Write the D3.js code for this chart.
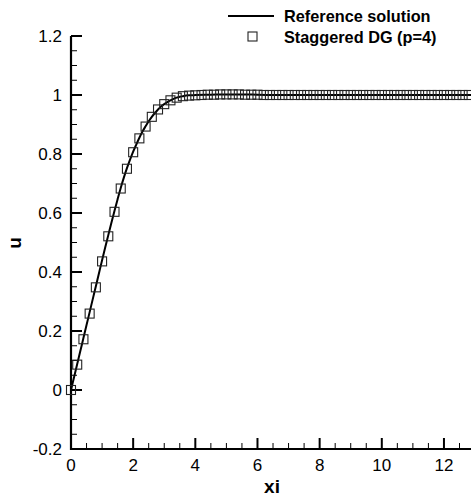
<!DOCTYPE html>
<html>
<head>
<meta charset="utf-8">
<script src="https://cdn.jsdelivr.net/npm/d3@7"></script>
<style>
  body { margin: 0; background: #fff; }
  text { font-family: "Liberation Sans", Arial, Helvetica, sans-serif; }
</style>
</head>
<body>
<svg id="chart"></svg>
<script>
// staggered DG samples (p=4)
const xiDG = [0, 0.2, 0.4, 0.6, 0.8, 1.0, 1.2, 1.4, 1.6, 1.8, 2.0, 2.2, 2.4, 2.6, 2.8, 3.0,
  3.2, 3.4, 3.6, 3.8, 4.0, 4.2, 4.4, 4.6, 4.8, 5.0, 5.2, 5.4, 5.6, 5.8, 6.0, 6.2, 6.4, 6.6,
  6.8, 7.0, 7.2, 7.4, 7.6, 7.8, 8.0, 8.2, 8.4, 8.6, 8.8, 9.0, 9.2, 9.4, 9.6, 9.8, 10.0,
  10.2, 10.4, 10.6, 10.8, 11.0, 11.2, 11.4, 11.6, 11.8, 12.0, 12.2, 12.4, 12.6, 12.8];
const uDG = [0, 0.086, 0.172, 0.259, 0.348, 0.436, 0.521, 0.604, 0.683, 0.750, 0.806, 0.853,
  0.893, 0.926, 0.951, 0.969, 0.982, 0.991, 0.996, 0.998, 0.999, 1.000, 1.001, 1.001, 1.002,
  1.002, 1.002, 1.002, 1.001, 1.001, 1.001, 1.000, 1.000, 1.000, 1.000, 1.000, 1.000, 1.000,
  1.000, 1.000, 1.000, 1.000, 1.000, 1.000, 1.000, 1.000, 1.000, 1.000, 1.000, 1.000, 1.000,
  1.000, 1.000, 1.000, 1.000, 1.000, 1.000, 1.000, 1.000, 1.000, 1.000, 1.000, 1.000, 1.000, 1.000];

// reference solution
const xiRef = [0, 0.1, 0.2, 0.3, 0.4, 0.5, 0.6, 0.7, 0.8, 0.9, 1.0, 1.1, 1.2, 1.3, 1.4, 1.5,
  1.6, 1.7, 1.8, 1.9, 2.0, 2.1, 2.2, 2.3, 2.4, 2.5, 2.6, 2.7, 2.8, 2.9, 3.0, 3.1, 3.2, 3.3,
  3.4, 3.5, 3.6, 3.7, 3.8, 3.9, 4.0, 4.5, 5.0, 5.5, 6.0, 7.0, 8.0, 9.0, 10.0, 11.0, 12.0, 13.0];
const uRef = [0, 0.044, 0.088, 0.132, 0.176, 0.220, 0.264, 0.308, 0.352, 0.396, 0.440, 0.483,
  0.525, 0.567, 0.608, 0.647, 0.685, 0.720, 0.752, 0.781, 0.808, 0.832, 0.855, 0.876, 0.894,
  0.911, 0.926, 0.939, 0.951, 0.961, 0.969, 0.976, 0.982, 0.987, 0.991, 0.994, 0.996, 0.998,
  0.999, 0.999, 1.000, 1.001, 1.002, 1.002, 1.001, 1.000, 1.000, 1.000, 1.000, 1.000, 1.000, 1.000];

const xTicks = [0, 2, 4, 6, 8, 10, 12];
const yTicks = [-0.2, 0, 0.2, 0.4, 0.6, 0.8, 1, 1.2];
const legendLabels = ["Reference solution", "Staggered DG (p=4)"];

const width = 471, height = 496;
const svg = d3.select("#chart").attr("width", width).attr("height", height);

const x = d3.scaleLinear().domain([0, 12.87]).range([71, 471]);
const y = d3.scaleLinear().domain([-0.2, 1.2]).range([449, 36]);

// minor ticks
const xMinor = d3.range(0, 12.87, 0.5).filter(v => Math.abs(v % 2) > 1e-9);
const yMinor = d3.range(-0.2, 1.2001, 0.05).filter(v => Math.abs(Math.round(v * 5) - v * 5) > 1e-6);

const axes = svg.append("g");
axes.selectAll(".xminor").data(xMinor).join("line")
    .attr("x1", d => x(d)).attr("x2", d => x(d))
    .attr("y1", y(-0.2)).attr("y2", y(-0.2) - 6)
    .attr("stroke", "#000").attr("stroke-width", 1);
axes.selectAll(".xmajor").data(xTicks).join("line")
    .attr("x1", d => x(d)).attr("x2", d => x(d))
    .attr("y1", y(-0.2)).attr("y2", y(-0.2) - 11)
    .attr("stroke", "#000").attr("stroke-width", 2);
axes.selectAll(".yminor").data(yMinor).join("line")
    .attr("x1", x(0)).attr("x2", x(0) + 6)
    .attr("y1", d => y(d)).attr("y2", d => y(d))
    .attr("stroke", "#000").attr("stroke-width", 1);
axes.selectAll(".ymajor").data(yTicks).join("line")
    .attr("x1", x(0)).attr("x2", x(0) + 11)
    .attr("y1", d => y(d)).attr("y2", d => y(d))
    .attr("stroke", "#000").attr("stroke-width", 2);

axes.append("line")
    .attr("x1", x(0)).attr("x2", 471)
    .attr("y1", y(-0.2)).attr("y2", y(-0.2))
    .attr("stroke", "#000").attr("stroke-width", 2.2);
axes.append("line")
    .attr("x1", x(0)).attr("x2", x(0))
    .attr("y1", y(-0.2) + 1).attr("y2", y(1.2))
    .attr("stroke", "#000").attr("stroke-width", 2.2);

axes.selectAll(".xlab").data(xTicks).join("text")
    .attr("x", d => x(d)).attr("y", 471)
    .attr("text-anchor", "middle").attr("font-size", 17)
    .text(d => d);
axes.selectAll(".ylab").data(yTicks).join("text")
    .attr("x", 62).attr("y", d => y(d) + 6)
    .attr("text-anchor", "end").attr("font-size", 17)
    .text(d => d);

svg.append("text").attr("x", 272).attr("y", 493)
    .attr("text-anchor", "middle").attr("font-size", 19).attr("font-weight", "bold")
    .text("xi");
svg.append("text").attr("transform", "translate(21,243) rotate(-90)")
    .attr("text-anchor", "middle").attr("font-size", 19).attr("font-weight", "bold")
    .text("u");

// reference line
const refData = xiRef.map((v, i) => [v, uRef[i]]);
svg.append("path")
    .datum(refData)
    .attr("fill", "none").attr("stroke", "#000").attr("stroke-width", 2)
    .attr("d", d3.line().x(d => x(d[0])).y(d => y(d[1])).curve(d3.curveMonotoneX));

// markers
const s = 9;
svg.append("g").selectAll("rect")
    .data(xiDG.map((v, i) => [v, uDG[i]]))
    .join("rect")
    .attr("x", d => x(d[0]) - s / 2).attr("y", d => y(d[1]) - s / 2)
    .attr("width", s).attr("height", s)
    .attr("fill", "none").attr("stroke", "#222").attr("stroke-width", 1.1);

// legend
const leg = svg.append("g");
leg.append("line").attr("x1", 228).attr("x2", 274).attr("y1", 16).attr("y2", 16)
    .attr("stroke", "#000").attr("stroke-width", 2);
leg.append("rect").attr("x", 248).attr("y", 32).attr("width", s).attr("height", s)
    .attr("fill", "none").attr("stroke", "#222").attr("stroke-width", 1.1);
leg.selectAll(".lt").data(legendLabels).join("text")
    .attr("x", 284).attr("y", (d, i) => 22 + i * 21)
    .attr("font-size", 16.3).attr("font-weight", "bold")
    .text(d => d);
</script>
</body>
</html>
